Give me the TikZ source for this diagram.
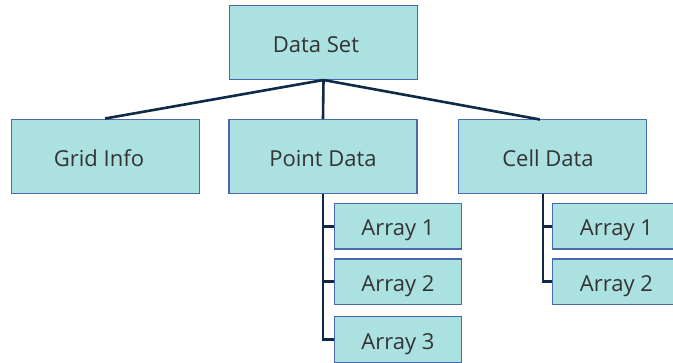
\documentclass[tikz,border=0pt]{standalone}
\usepackage{fontspec}
\setmainfont{Open Sans}
\usetikzlibrary{calc}
\definecolor{boxfill}{HTML}{ABE1E0}
\definecolor{boxdraw}{HTML}{4A68AC}
\definecolor{link}{HTML}{0E2A47}
\definecolor{txt}{HTML}{333333}
\begin{document}
\begin{tikzpicture}[x=1pt,y=-1pt,
  box/.style={draw=boxdraw,fill=boxfill,line width=1.4pt,inner sep=0pt,
    minimum width=188pt,minimum height=74pt,text=txt,
    text height=19pt,text depth=0pt,
    font=\fontsize{22}{24}\selectfont},
  lbl/.style={text=txt,inner sep=0pt,text height=19pt,text depth=0pt,
    font=\fontsize{22}{24}\selectfont},
  arr/.style={box,minimum width=127.4pt,minimum height=45.7pt},
  conn/.style={draw=link,line width=2.6pt,line join=miter}]
\useasboundingbox (0,0) rectangle (673,362);
\clip (0,0) rectangle (673,362);
\node[box] (ds) at (323.5,42.3) {};
\node[lbl] (dst) at (316,43.2) {Data Set};
\node[box] (grid) at (105.2,156.2) {};
\node[lbl] (gridt) at (99,157) {Grid Info};
\node[box] (point) at (323,156.5) {Point Data};
\node[box] (cell) at (552.5,156.5) {};
\node[lbl] (cellt) at (548,157) {Cell Data};
\node[arr] (pa1) at (398,226.2) {Array 1};
\node[arr] (pa2) at (398,281.7) {Array 2};
\node[arr] (pa3) at (398,339.5) {Array 3};
\node[arr] (ca1) at (616.4,226.2) {Array 1};
\node[arr] (ca2) at (616.4,281.7) {Array 2};
\coordinate (celltop) at (540,119.5);
\coordinate (cellbot) at (543,193.5);
\draw[conn] (ds.south) -- (grid.north);
\draw[conn] (ds.south) -- (point.north);
\draw[conn] (ds.south) -- (celltop);
\draw[conn] (point.south) |- (pa3.west);
\draw[conn] (pa1.west) -- (pa1.west -| point.south);
\draw[conn] (pa2.west) -- (pa2.west -| point.south);
\draw[conn] (cellbot) |- (ca2.west);
\draw[conn] (ca1.west) -- (ca1.west -| cellbot);
\end{tikzpicture}
\end{document}
